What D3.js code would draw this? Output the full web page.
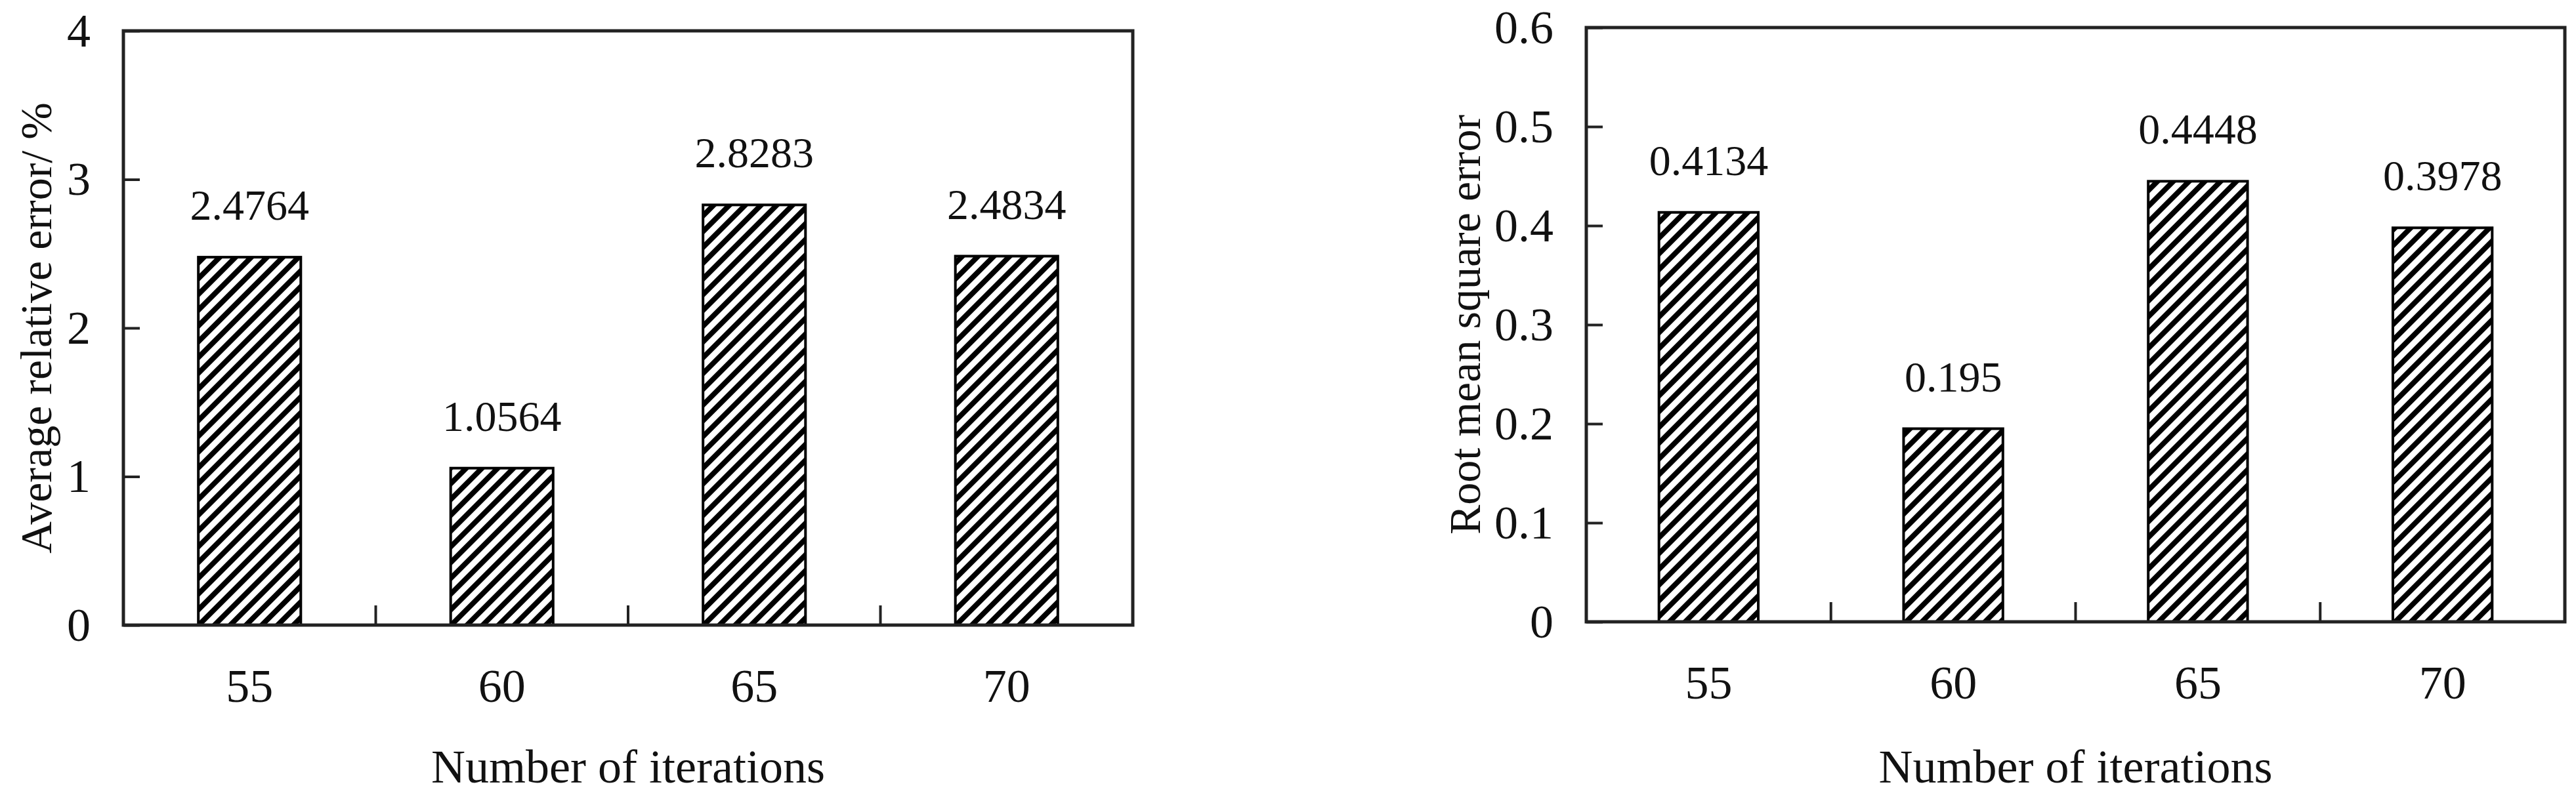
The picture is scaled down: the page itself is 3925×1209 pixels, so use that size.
<!DOCTYPE html>
<html><head><meta charset="utf-8">
<script src="https://cdn.jsdelivr.net/npm/d3@7"></script>
<style>body{margin:0;background:#fff}text{font-family:"Liberation Serif","DejaVu Serif",serif;fill:#111}</style>
</head><body><svg id="c" width="3925" height="1209"></svg>
<script>
const categories = ["55","60","65","70"];
const mareValues = [2.4764, 1.0564, 2.8283, 2.4834];
const mareLabels = ["2.4764","1.0564","2.8283","2.4834"];
const rmseValues = [0.4134, 0.195, 0.4448, 0.3978];
const rmseLabels = ["0.4134","0.195","0.4448","0.3978"];
const mareTicks = [0,1,2,3,4];
const rmseTicks = [0,0.1,0.2,0.3,0.4,0.5,0.6];

const svg = d3.select("#c");
const defs = svg.append("defs");
const pat = defs.append("pattern").attr("id","hatch").attr("patternUnits","userSpaceOnUse")
  .attr("width",17).attr("height",17).attr("patternTransform","rotate(45)");
pat.append("rect").attr("width",17).attr("height",17).attr("fill","#fff");
pat.append("rect").attr("x",0).attr("y",0).attr("width",8).attr("height",17).attr("fill","#000");

function panel(cfg){
  const g = svg.append("g");
  const x = d3.scaleBand().domain(categories).range([cfg.x0,cfg.x1]).paddingInner(0.594).paddingOuter(0.297);
  const y = d3.scaleLinear().domain([0,cfg.max]).range([cfg.y0,cfg.y1]);
  // bars
  g.selectAll("rect.bar").data(cfg.values).join("rect").attr("class","bar")
    .attr("x",(d,i)=>x(categories[i])).attr("width",x.bandwidth())
    .attr("y",d=>y(d)).attr("height",d=>y(0)-y(d))
    .attr("fill","url(#hatch)").attr("stroke","#000").attr("stroke-width",4);
  g.selectAll("text.val").data(cfg.values).join("text").attr("class","val")
    .attr("x",(d,i)=>x(categories[i])+x.bandwidth()/2).attr("y",d=>y(d)-57)
    .attr("text-anchor","middle").attr("font-size",66).text((d,i)=>cfg.labels[i]);
  // frame
  g.append("rect").attr("x",cfg.x0).attr("y",cfg.y1).attr("width",cfg.x1-cfg.x0).attr("height",cfg.y0-cfg.y1)
    .attr("fill","none").attr("stroke","#222").attr("stroke-width",5);
  // y axis
  const ya = g.append("g").attr("transform",`translate(${cfg.x0},0)`)
    .call(d3.axisLeft(y).tickValues(cfg.ticks).tickSize(-25).tickPadding(50).tickFormat(d=>String(d)));
  ya.select(".domain").remove();
  ya.selectAll("line").attr("stroke","#222").attr("stroke-width",4);
  ya.selectAll("text").attr("font-size",72).attr("font-family","Liberation Serif, serif").attr("fill","#111");
  // x ticks between bars
  const step = x.step();
  const seps = categories.slice(1).map(c=>x(c)-(step-x.bandwidth())/2);
  g.selectAll("line.sep").data(seps).join("line").attr("class","sep")
    .attr("x1",d=>d).attr("x2",d=>d).attr("y1",cfg.y0).attr("y2",cfg.y0-30)
    .attr("stroke","#222").attr("stroke-width",4);
  g.selectAll("text.cat").data(categories).join("text").attr("class","cat")
    .attr("x",c=>x(c)+x.bandwidth()/2).attr("y",cfg.y0+117).attr("text-anchor","middle")
    .attr("font-size",72).text(c=>c);
  g.append("text").attr("x",(cfg.x0+cfg.x1)/2).attr("y",1193).attr("text-anchor","middle")
    .attr("font-size",72).text("Number of iterations");
  g.append("text").attr("transform",`translate(${cfg.ylx},${(cfg.y0+cfg.y1)/2}) rotate(-90)`)
    .attr("text-anchor","middle").attr("dominant-baseline","central").attr("font-size",68).text(cfg.title);
}
panel({x0:188,x1:1726,y0:953,y1:47,max:4,values:mareValues,labels:mareLabels,ticks:mareTicks,ylx:55,title:"Average relative error/ %"});
panel({x0:2417,x1:3908,y0:948,y1:42,max:0.6,values:rmseValues,labels:rmseLabels,ticks:rmseTicks,ylx:2232,title:"Root mean square error"});
</script></body></html>
